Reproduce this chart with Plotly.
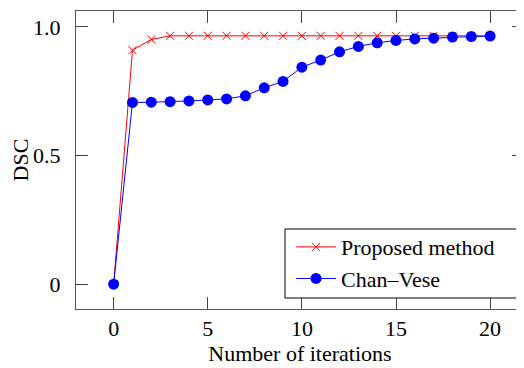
import plotly.graph_objects as go

iterations = list(range(0, 21))
proposed = [0.0, 0.909, 0.951] + [0.965] * 18
chan_vese = [0.0, 0.706, 0.707, 0.709, 0.712, 0.716, 0.720, 0.732, 0.763, 0.788,
             0.843, 0.871, 0.903, 0.924, 0.938, 0.947, 0.953, 0.956, 0.960, 0.962, 0.964]
x_ticks = [0, 5, 10, 15, 20]
y_ticks = [0, 0.5, 1.0]
y_ticktext = ["0", "0.5", "1.0"]

FONT = "Liberation Serif"
FS = 22

fig = go.Figure()
fig.add_trace(go.Scatter(
    x=iterations, y=proposed, mode="lines+markers", name="Proposed method",
    line=dict(color="#ff0000", width=1),
    marker=dict(symbol="x-thin", size=8, color="#ff0000",
                line=dict(color="#ff0000", width=1)),
))
fig.add_trace(go.Scatter(
    x=iterations, y=chan_vese, mode="lines+markers", name="Chan\u2013Vese",
    line=dict(color="#0000ff", width=1),
    marker=dict(symbol="circle", size=11, color="#0000ff"),
))

axis_common = dict(
    showline=True, linecolor="#555555", linewidth=1, mirror="ticks",
    ticks="inside", ticklen=12, tickcolor="#444444", tickwidth=1,
    showgrid=False, zeroline=False, automargin=False,
    tickfont=dict(family=FONT, size=FS, color="black"),
)

# the page body has an 8px margin, so the figure is 8px smaller and offset
fig.update_layout(
    width=516, height=360,
    margin=dict(l=68, r=0, t=3, b=59),
    paper_bgcolor="white", plot_bgcolor="white",
    font=dict(family=FONT, size=FS, color="black"),
    xaxis=dict(range=[-2, 21.8], tickvals=x_ticks, ticklabelstandoff=0,
               title=dict(text="Number of iterations", standoff=2,
                          font=dict(family=FONT, size=FS)),
               **axis_common),
    yaxis=dict(range=[-0.0965, 1.0615], tickvals=y_ticks, ticktext=y_ticktext,
               ticklabelstandoff=10,
               title=dict(text="DSC", standoff=0, font=dict(family=FONT, size=FS)),
               **axis_common),
    legend=dict(x=0.48, y=0.030, xanchor="left", yanchor="bottom",
                bgcolor="rgba(0,0,0,0)", borderwidth=0,
                font=dict(family=FONT, size=FS), tracegroupgap=0,
                itemwidth=40),
    showlegend=True,
    shapes=[dict(type="rect", xref="paper", yref="paper",
                 x0=0.4665, x1=0.984, y0=0.0369, y1=0.2685,
                 line=dict(color="black", width=1), fillcolor="white",
                 layer="above")],
)

fig.write_html("out.html")
